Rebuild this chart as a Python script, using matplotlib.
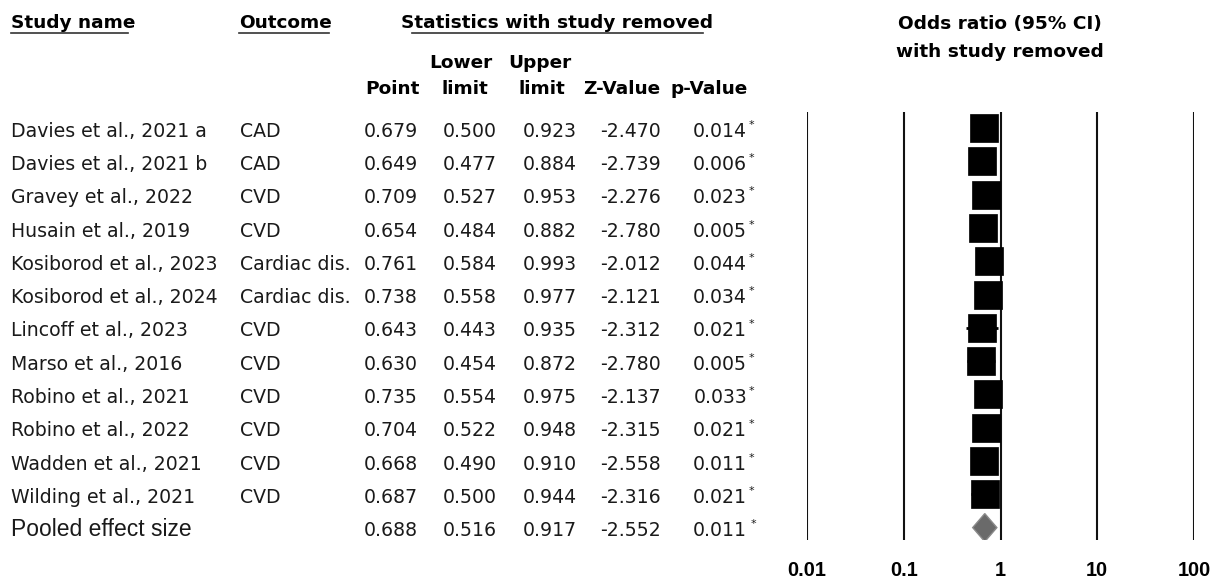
import matplotlib
matplotlib.use("Agg")
import matplotlib.pyplot as plt
import matplotlib.transforms as mtransforms
from matplotlib.lines import Line2D
from matplotlib.patches import Polygon
import numpy as np

# data
studies = ["Davies et al., 2021 a", "Davies et al., 2021 b", "Gravey et al., 2022",
           "Husain et al., 2019", "Kosiborod et al., 2023", "Kosiborod et al., 2024",
           "Lincoff et al., 2023", "Marso et al., 2016", "Robino et al., 2021",
           "Robino et al., 2022", "Wadden et al., 2021", "Wilding et al., 2021"]
outcomes = ["CAD", "CAD", "CVD", "CVD", "Cardiac dis.", "Cardiac dis.",
            "CVD", "CVD", "CVD", "CVD", "CVD", "CVD"]
point = [0.679, 0.649, 0.709, 0.654, 0.761, 0.738, 0.643, 0.630, 0.735, 0.704, 0.668, 0.687]
lower = [0.500, 0.477, 0.527, 0.484, 0.584, 0.558, 0.443, 0.454, 0.554, 0.522, 0.490, 0.500]
upper = [0.923, 0.884, 0.953, 0.882, 0.993, 0.977, 0.935, 0.872, 0.975, 0.948, 0.910, 0.944]
zval = [-2.470, -2.739, -2.276, -2.780, -2.012, -2.121, -2.312, -2.780, -2.137, -2.315, -2.558, -2.316]
pval = [0.014, 0.006, 0.023, 0.005, 0.044, 0.034, 0.021, 0.005, 0.033, 0.021, 0.011, 0.021]

pooled_label = "Pooled effect size"
pooled = dict(point=0.688, lower=0.516, upper=0.917, z=-2.552, p=0.011)

xticks = [0.01, 0.1, 1, 10, 100]
xticklabels = ["0.01", "0.1", "1", "10", "100"]

W, H = 1220, 582
fig = plt.figure(figsize=(W / 100, H / 100), dpi=100)


def fx(x):
    return x / W


def fy(y):
    return 1 - y / H


# forest panel: 0.01 at x=807, 100 at x=1194, lines from y=112 to 540
ax = fig.add_axes([fx(807), fy(540), (1194 - 807) / W, (540 - 112) / H])
ax.set_xscale("log")
ax.set_xlim(0.01, 100)
row_px = 33.3
ax.set_ylim((540 - 128) / row_px, (112 - 128) / row_px)
for s in ax.spines.values():
    s.set_visible(False)
ax.set_yticks([])
ax.set_xticks(xticks)
ax.set_xticklabels(xticklabels, fontfamily="Liberation Sans", fontweight="bold", fontsize=14.4)
ax.tick_params(axis="x", length=0, pad=15)
ax.minorticks_off()

for t in xticks:
    ax.axvline(t, color="#111111", lw=1.5, zorder=1)

rows = np.arange(len(studies))
ax.hlines(rows, lower, upper, color="black", lw=2, zorder=2)
ax.plot(point, rows, "s", color="black", markersize=19.5, mew=0.5, zorder=3)

prow = len(studies)
dh = 14 / row_px
diamond = Polygon([(pooled["lower"], prow), (pooled["point"], prow - dh),
                   (pooled["upper"], prow), (pooled["point"], prow + dh)],
                  closed=True, facecolor="#6a6a6a", edgecolor="#8a8a8a", lw=1, zorder=3)
ax.add_patch(diamond)

# table text, y in row units of the forest panel
trans = mtransforms.blended_transform_factory(fig.transFigure, ax.transData)
body = dict(fontsize=13.6, color="#1a1a1a", transform=trans, va="baseline")
off = 8.7 / row_px


def star(y_row, xpix):
    fig.text(fx(xpix), y_row + off - 9 / row_px, "*", fontsize=8, color="#1a1a1a",
             transform=trans, va="baseline", ha="left")


for i in rows:
    y = i + off
    fig.text(fx(11), y, studies[i], ha="left", **body)
    fig.text(fx(240), y, outcomes[i], ha="left", **body)
    fig.text(fx(418), y, f"{point[i]:.3f}", ha="right", **body)
    fig.text(fx(497), y, f"{lower[i]:.3f}", ha="right", **body)
    fig.text(fx(577), y, f"{upper[i]:.3f}", ha="right", **body)
    fig.text(fx(661), y, f"{zval[i]:.3f}", ha="right", **body)
    fig.text(fx(747), y, f"{pval[i]:.3f}", ha="right", **body)
    star(i, 749)

y = prow + off
fig.text(fx(11), y, pooled_label, ha="left", fontsize=16.5, fontfamily="Liberation Sans",
         color="#1a1a1a", transform=trans, va="baseline")
fig.text(fx(418), y, f"{pooled['point']:.3f}", ha="right", **body)
fig.text(fx(497), y, f"{pooled['lower']:.3f}", ha="right", **body)
fig.text(fx(577), y, f"{pooled['upper']:.3f}", ha="right", **body)
fig.text(fx(661), y, f"{pooled['z']:.3f}", ha="right", **body)
fig.text(fx(747), y, f"{pooled['p']:.3f}", ha="right", **body)
star(prow, 751)

# headers
hd = dict(fontsize=13.3, fontweight="bold", color="black", va="baseline")
fig.text(fx(11), fy(28), "Study name", ha="left", **hd)
fig.text(fx(239), fy(28), "Outcome", ha="left", **hd)
fig.text(fx(557), fy(28), "Statistics with study removed", ha="center", **hd)
fig.text(fx(1000), fy(29), "Odds ratio (95% CI)", ha="center", **hd)
fig.text(fx(1000), fy(57), "with study removed", ha="center", **hd)
fig.text(fx(420), fy(94), "Point", ha="right", **hd)
fig.text(fx(461), fy(68), "Lower", ha="center", **hd)
fig.text(fx(465), fy(94), "limit", ha="center", **hd)
fig.text(fx(540), fy(68), "Upper", ha="center", **hd)
fig.text(fx(542), fy(94), "limit", ha="center", **hd)
fig.text(fx(660), fy(94), "Z-Value", ha="right", **hd)
fig.text(fx(748), fy(94), "p-Value", ha="right", **hd)

for x0, x1 in [(11, 128), (239, 329), (412, 703)]:
    fig.add_artist(Line2D([fx(x0), fx(x1)], [fy(33), fy(33)], color="#333333", lw=1.2))

fig.savefig("out.png", dpi=100)
